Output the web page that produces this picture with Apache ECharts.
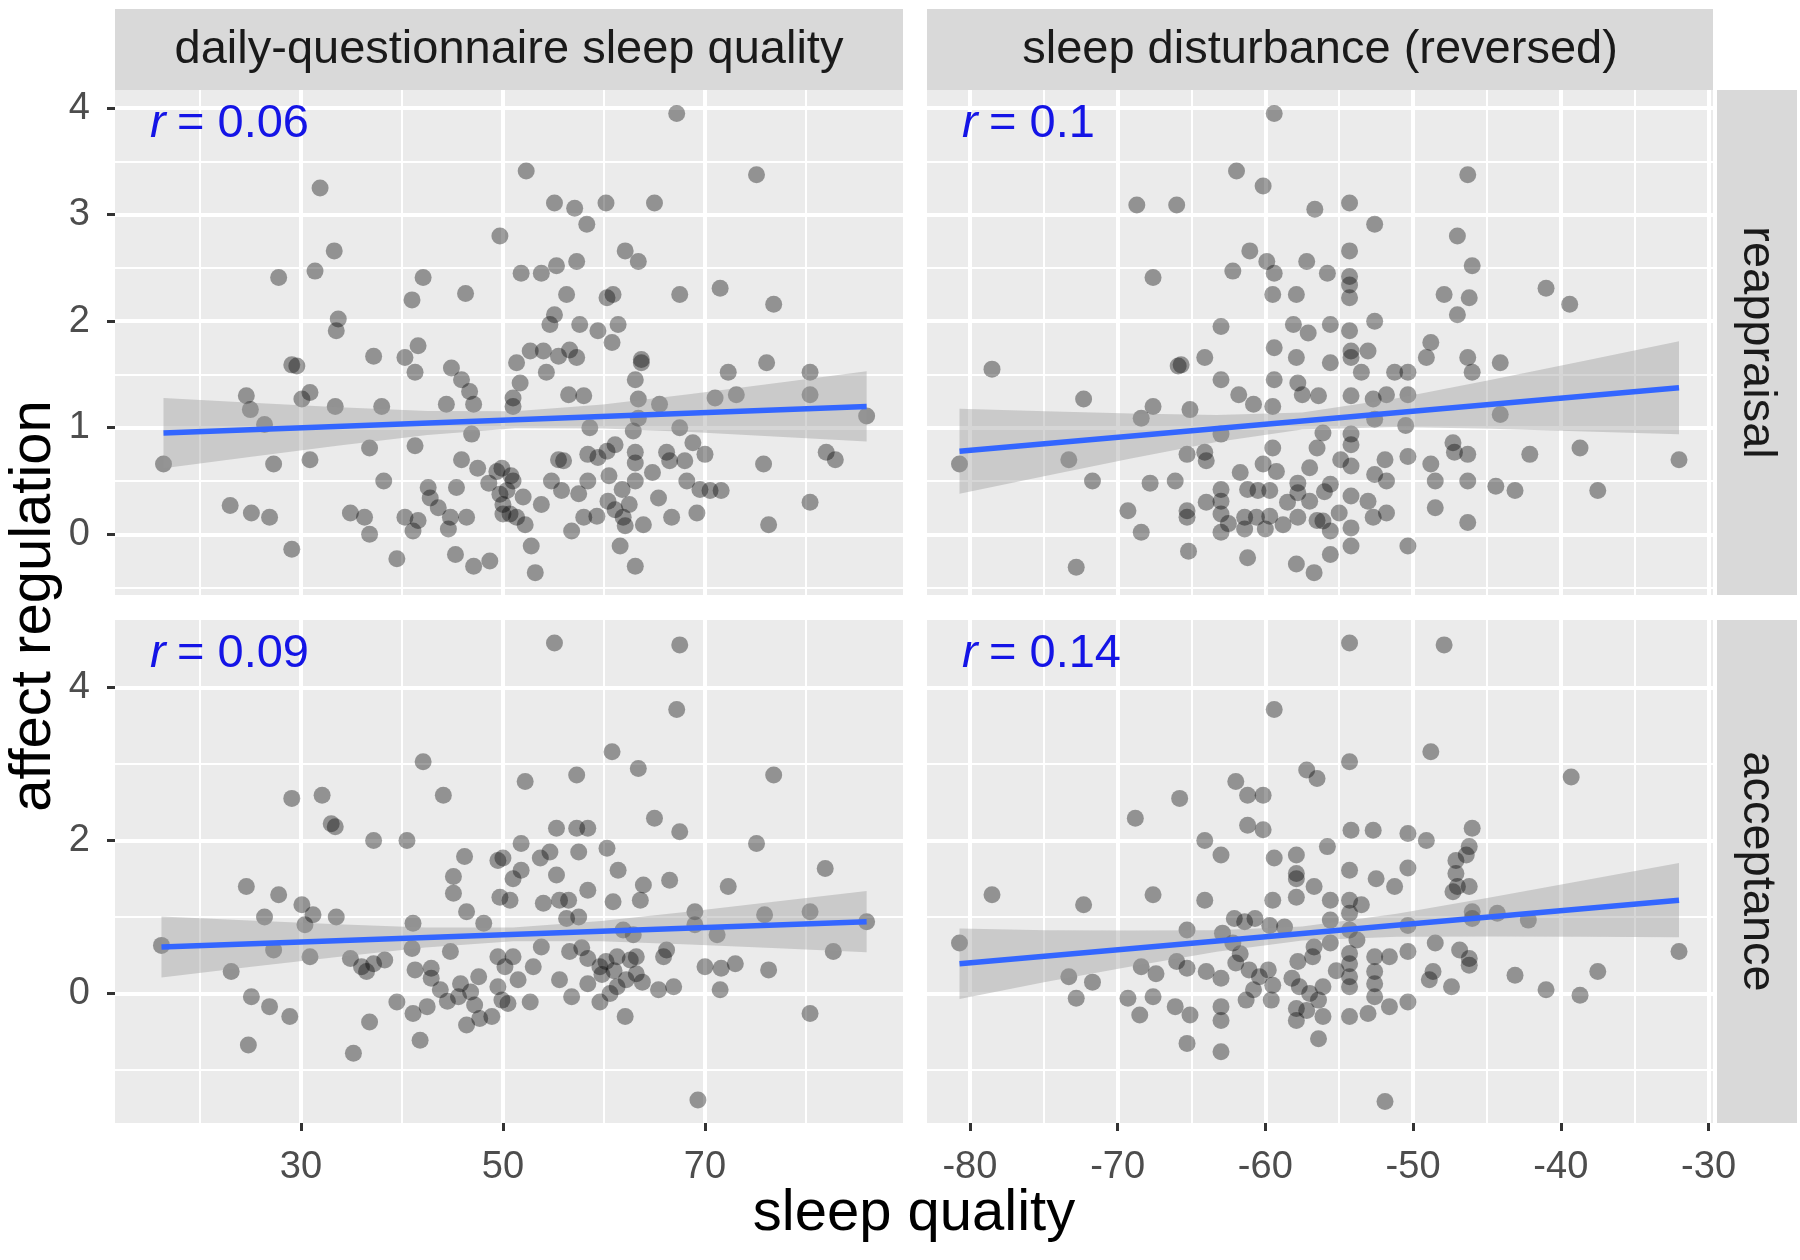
<!DOCTYPE html>
<html><head><meta charset="utf-8">
<script src="https://cdn.jsdelivr.net/npm/echarts@6/dist/echarts.min.js"></script>
<style>html,body{margin:0;padding:0;background:#fff}#c{width:1800px;height:1260px}</style>
</head><body><div id="c"></div>
<script>
// ---------------- data ----------------
const colLabels = ['daily-questionnaire sleep quality', 'sleep disturbance (reversed)'];
const rowLabels = ['reappraisal', 'acceptance'];
const rValues = [['0.06', '0.1'], ['0.09', '0.14']];
const xTitle = 'sleep quality';
const yTitle = 'affect regulation';

const xRangeQuality = [11.6, 89.6];
const xRangeDisturb = [-82.9, -29.7];
const yRangeReapp = [-0.57, 4.17];
const yRangeAccept = [-1.69, 4.88];

const xTicksQuality = [30, 50, 70];
const xMinorQuality = [20, 40, 60, 80];
const xTicksDisturb = [-80, -70, -60, -50, -40, -30];
const xMinorDisturb = [-75, -65, -55, -45, -35];
const yTicksReapp = [0, 1, 2, 3, 4];
const yMinorReapp = [-0.5, 0.5, 1.5, 2.5, 3.5];
const yTicksAccept = [0, 2, 4];
const yMinorAccept = [-1, 1, 3];

// reappraisal vs daily-questionnaire sleep quality
const reappQuality = [
[31.9,3.25],[49.7,2.80],[33.3,2.66],[27.8,2.41],[31.4,2.47],[42.1,2.41],[41.0,2.20],[46.3,2.26],[33.7,2.02],[33.5,1.91],
[37.2,1.67],[41.6,1.77],[40.3,1.66],[41.3,1.52],[44.9,1.56],[45.9,1.45],[29.1,1.59],[29.6,1.58],[24.6,1.30],[25.0,1.17],
[30.9,1.33],[30.1,1.27],[33.4,1.20],[38.0,1.20],[46.7,1.34],[47.1,1.22],[44.4,1.22],[26.4,1.03],[16.4,0.66],[27.3,0.66],
[30.9,0.70],[36.8,0.81],[41.3,0.83],[45.9,0.70],[46.9,0.94],[38.2,0.50],[42.6,0.44],[42.8,0.34],[45.4,0.44],[49.4,0.59],
[49.7,0.375],[43.6,0.25],[23.0,0.27],[25.1,0.20],[26.9,0.16],[34.9,0.20],[36.3,0.16],[36.8,0.00],[40.3,0.16],[41.6,0.13],
[41.1,0.03],[44.8,0.16],[46.4,0.16],[44.6,0.05],[50.0,0.19],[29.1,-0.14],[39.5,-0.23],[45.3,-0.19],[47.1,-0.30],[48.7,-0.25],
[67.2,3.95],[52.3,3.41],[75.1,3.375],[55.1,3.11],[57.1,3.06],[60.2,3.11],[65.0,3.11],[58.3,2.91],[62.1,2.66],[63.4,2.56],
[51.8,2.45],[53.8,2.45],[55.3,2.52],[57.3,2.56],[67.5,2.25],[71.5,2.31],[76.8,2.16],[56.3,2.25],[60.3,2.22],[60.9,2.25],
[55.1,2.06],[54.65,1.97],[57.6,1.97],[59.4,1.91],[61.4,1.97],[60.8,1.80],[51.35,1.61],[52.7,1.72],[54.0,1.72],[55.5,1.67],
[56.6,1.73],[57.3,1.66],[63.7,1.64],[63.7,1.61],[54.3,1.52],[63.1,1.45],[51.7,1.42],[72.3,1.52],[76.1,1.61],[80.4,1.52],
[51.0,1.28],[51.0,1.20],[56.5,1.31],[58.0,1.30],[63.4,1.27],[65.5,1.22],[71.0,1.28],[73.1,1.31],[80.4,1.31],[86.0,1.11],
[58.6,1.00],[62.9,0.97],[67.5,1.00],[63.4,1.09],[68.8,0.86],[70.0,0.75],[66.2,0.77],[66.5,0.69],[68.0,0.69],[63.1,0.77],
[63.1,0.67],[61.1,0.84],[60.3,0.78],[59.4,0.72],[58.4,0.75],[56.0,0.69],[54.8,0.50],[55.8,0.41],[58.4,0.50],[63.1,0.50],
[68.2,0.50],[69.5,0.42],[70.5,0.41],[71.6,0.41],[65.4,0.34],[82.0,0.77],[82.9,0.70],[75.8,0.66],[80.4,0.30],[76.3,0.09],
[66.7,0.16],[69.2,0.20],[60.4,0.31],[61.1,0.23],[61.9,0.16],[62.1,0.08],[63.9,0.09],[58.0,0.16],[59.3,0.17],[56.8,0.03],
[61.6,-0.11],[63.1,-0.30],[52.8,-0.11],[53.2,-0.36],[49.9,0.62],[50.4,0.41],[50.7,0.19],[51.35,0.16],[52.2,0.09],[51.0,0.50],
[50.0,0.28],[55.5,0.70],[48.6,0.48],[50.8,0.55],[52.0,0.35],[47.5,0.62],[53.8,0.28],[57.5,0.38],[60.5,0.55],[62.5,0.28],
[64.8,0.58],[61.8,0.42]
];

// reappraisal vs sleep disturbance (reversed)
const reappDisturb = [
[-59.4,3.95],[-61.95,3.41],[-60.15,3.27],[-68.7,3.09],[-66.0,3.09],[-56.65,3.05],[-61.05,2.66],[-59.9,2.56],[-59.4,2.45],[-62.2,2.47],
[-57.2,2.56],[-67.6,2.41],[-59.5,2.25],[-57.9,2.25],[-63.0,1.95],[-58.1,1.97],[-57.1,1.89],[-59.4,1.75],[-57.9,1.66],[-64.1,1.66],
[-65.7,1.59],[-65.9,1.58],[-78.5,1.55],[-63.0,1.45],[-59.4,1.45],[-57.8,1.42],[-57.5,1.31],[-61.8,1.31],[-60.8,1.22],[-59.5,1.20],
[-72.3,1.27],[-67.6,1.20],[-68.4,1.09],[-65.1,1.17],[-63.0,0.94],[-80.7,0.66],[-73.3,0.70],[-65.3,0.75],[-64.1,0.77],[-64.0,0.69],
[-59.5,0.81],[-57.0,0.625],[-60.15,0.66],[-59.25,0.59],[-71.7,0.50],[-67.8,0.48],[-66.1,0.50],[-61.7,0.58],[-63.0,0.42],[-63.0,0.31],
[-63.0,0.19],[-63.0,0.02],[-61.2,0.42],[-60.5,0.41],[-59.7,0.41],[-57.8,0.48],[-57.8,0.39],[-57.0,0.31],[-64.0,0.30],[-65.3,0.22],
[-65.3,0.16],[-61.4,0.16],[-61.4,0.05],[-60.6,0.16],[-59.7,0.17],[-58.8,0.09],[-57.8,0.16],[-56.5,0.13],[-69.3,0.22],[-68.4,0.02],
[-65.2,-0.16],[-61.2,-0.22],[-57.9,-0.28],[-56.7,-0.36],[-72.8,-0.31],
[-46.3,3.375],[-54.3,3.11],[-52.6,2.91],[-47.0,2.80],[-54.3,2.66],[-55.8,2.45],[-54.3,2.42],[-54.3,2.34],[-54.3,2.22],[-46.0,2.52],
[-41.0,2.31],[-39.4,2.16],[-47.9,2.25],[-46.2,2.22],[-47.0,2.06],[-52.6,2.00],[-55.6,1.97],[-54.3,1.91],[-48.8,1.80],[-49.1,1.66],
[-54.2,1.72],[-54.2,1.66],[-53.05,1.72],[-55.6,1.61],[-53.5,1.52],[-51.25,1.52],[-50.35,1.52],[-46.3,1.66],[-46.0,1.52],[-44.1,1.61],
[-56.4,1.30],[-54.2,1.30],[-52.7,1.27],[-51.8,1.31],[-50.35,1.31],[-52.6,1.08],[-50.5,1.02],[-44.1,1.125],[-56.1,0.95],[-54.2,0.94],
[-54.2,0.84],[-56.5,0.81],[-47.3,0.86],[-47.2,0.77],[-46.3,0.75],[-42.1,0.75],[-38.7,0.81],[-32.0,0.70],[-54.9,0.70],[-54.2,0.64],
[-51.9,0.70],[-50.35,0.73],[-48.8,0.66],[-48.5,0.50],[-52.6,0.56],[-51.8,0.50],[-55.6,0.47],[-46.3,0.50],[-44.4,0.45],[-43.1,0.41],
[-37.5,0.41],[-54.2,0.36],[-53.05,0.31],[-52.7,0.16],[-51.8,0.20],[-48.5,0.25],[-46.3,0.11],[-56.1,0.125],[-55.6,0.03],[-54.2,0.06],
[-54.2,-0.11],[-50.35,-0.11],[-55.6,-0.19],[-58.5,0.30],[-60.0,0.05],[-62.5,0.10],[-55.0,0.20],[-56.0,0.40]
];

// acceptance vs daily-questionnaire sleep quality
const acceptQuality = [
[42.1,3.03],[29.1,2.55],[32.1,2.59],[44.1,2.59],[33.4,2.18],[33.0,2.22],[37.2,2.00],[40.5,2.00],[46.2,1.79],[49.5,1.74],
[45.1,1.53],[45.1,1.31],[24.6,1.40],[27.8,1.29],[30.1,1.16],[26.4,1.00],[31.2,1.03],[33.5,1.00],[30.4,0.90],[46.4,1.07],
[41.1,0.92],[48.1,0.92],[49.7,1.26],[16.2,0.63],[27.3,0.57],[30.9,0.48],[34.9,0.46],[36.0,0.35],[37.2,0.39],[38.3,0.44],
[36.5,0.29],[41.0,0.59],[41.3,0.31],[42.9,0.33],[42.9,0.20],[44.8,0.55],[47.6,0.22],[45.8,0.13],[45.6,-0.04],[49.5,0.48],
[49.5,0.09],[50.2,0.35],[23.1,0.29],[25.1,-0.04],[26.9,-0.17],[28.9,-0.30],[24.8,-0.67],[39.5,-0.11],[41.1,-0.26],[42.5,-0.17],
[36.8,-0.37],[41.8,-0.61],[35.2,-0.78],[46.4,-0.41],[47.7,-0.325],[48.9,-0.30],[49.9,-0.085],
[55.1,4.58],[67.5,4.555],[67.2,3.71],[60.8,3.16],[63.4,2.94],[52.2,2.77],[57.3,2.855],[76.8,2.855],[65.0,2.29],[67.5,2.115],
[75.1,1.96],[55.3,2.16],[57.3,2.16],[58.4,2.16],[51.8,1.96],[54.65,1.85],[57.5,1.85],[60.3,1.90],[50.0,1.77],[53.7,1.77],
[51.8,1.61],[51.0,1.50],[55.3,1.55],[61.4,1.61],[58.4,1.35],[63.9,1.42],[66.5,1.48],[72.3,1.40],[81.9,1.635],[50.7,1.22],
[54.0,1.18],[55.6,1.22],[56.5,1.22],[60.9,1.20],[63.6,1.22],[56.3,0.98],[57.5,1.00],[61.9,0.83],[62.9,0.77],[69.0,1.07],
[69.0,0.90],[71.2,0.77],[75.9,1.03],[80.4,1.07],[86.0,0.94],[82.7,0.55],[76.3,0.31],[80.4,-0.26],[51.0,0.48],[56.6,0.55],
[58.4,0.46],[59.6,0.35],[61.3,0.48],[62.6,0.44],[63.2,0.48],[65.9,0.48],[66.2,0.57],[63.2,0.26],[62.2,0.18],[61.3,0.09],
[60.6,0.00],[59.6,-0.11],[58.4,0.13],[56.8,-0.04],[55.6,0.18],[52.7,-0.11],[50.5,-0.13],[51.5,0.18],[65.4,0.05],[66.9,0.09],
[62.1,-0.30],[70.0,0.35],[71.6,0.33],[73.0,0.39],[71.5,0.05],[69.3,-1.39],[53.8,0.61],
[44.5,-0.10],[46.8,0.02],[47.2,-0.15],[43.8,0.05],[59.8,0.25],[61.0,0.30],[63.8,0.15],[60.2,0.42],[57.8,0.60],[53.0,0.35]
];

// acceptance vs sleep disturbance (reversed)
const acceptDisturb = [
[-59.4,3.71],[-57.2,2.92],[-56.5,2.81],[-62.0,2.77],[-61.2,2.59],[-60.15,2.59],[-65.8,2.55],[-68.8,2.29],[-61.2,2.20],[-60.15,2.14],
[-64.1,2.00],[-63.0,1.81],[-59.4,1.77],[-57.9,1.81],[-57.9,1.57],[-57.9,1.50],[-56.7,1.40],[-59.5,1.22],[-57.9,1.26],[-78.5,1.29],
[-72.3,1.16],[-67.6,1.29],[-64.1,1.22],[-80.7,0.66],[-62.1,0.98],[-61.4,0.94],[-60.7,0.98],[-59.7,0.89],[-58.7,0.87],[-65.3,0.83],
[-62.9,0.79],[-62.2,0.66],[-61.7,0.52],[-57.8,0.42],[-56.7,0.61],[-68.4,0.35],[-67.4,0.26],[-66.0,0.42],[-65.3,0.33],[-64.0,0.29],
[-63.0,0.20],[-61.1,0.31],[-60.4,0.22],[-59.8,0.31],[-59.5,0.11],[-57.7,0.09],[-57.0,0.00],[-73.3,0.22],[-71.7,0.15],[-72.8,-0.06],
[-69.3,-0.06],[-67.6,-0.04],[-68.5,-0.28],[-66.1,-0.17],[-65.1,-0.28],[-63.0,-0.17],[-63.0,-0.35],[-61.3,-0.085],[-59.6,-0.085],[-57.9,-0.35],
[-56.4,-0.085],[-65.3,-0.65],[-63.0,-0.76],[-56.4,-0.59],[-57.9,-0.195],[-57.2,-0.22],
[-54.3,4.58],[-47.9,4.555],[-48.8,3.16],[-54.3,3.03],[-39.3,2.83],[-54.2,2.135],[-52.7,2.135],[-50.35,2.09],[-49.1,2.00],[-46.0,2.16],
[-46.2,1.92],[-46.4,1.81],[-47.1,1.74],[-55.8,1.92],[-54.3,1.61],[-52.5,1.50],[-51.25,1.40],[-50.35,1.64],[-47.1,1.57],[-47.0,1.40],
[-46.2,1.40],[-47.3,1.33],[-55.6,1.22],[-54.3,1.22],[-53.5,1.16],[-54.3,1.05],[-55.6,0.96],[-50.35,0.89],[-46.0,1.07],[-44.3,1.05],
[-42.2,0.96],[-54.3,0.83],[-55.6,0.66],[-54.3,0.525],[-54.3,0.39],[-54.3,0.22],[-54.3,0.09],[-52.6,0.48],[-51.6,0.48],[-52.6,0.29],
[-52.6,0.13],[-52.6,-0.04],[-50.35,0.55],[-48.5,0.66],[-46.85,0.57],[-46.2,0.46],[-46.2,0.37],[-48.65,0.29],[-48.9,0.18],[-47.4,0.09],
[-43.1,0.24],[-41.0,0.05],[-38.7,-0.02],[-37.5,0.29],[-32.0,0.55],[-50.35,-0.11],[-51.6,-0.17],[-53.05,-0.26],[-54.3,-0.30],[-56.1,-0.30],
[-51.9,-1.41],[-56.8,0.48],[-56.1,0.09],[-46.0,0.98],[-58.2,0.20],[-60.8,0.05],[-62.0,0.40],[-55.2,0.30],[-53.8,0.70]
];

// fitted lines (end points)
const fitReappQuality = [[16.4, 0.95], [86.0, 1.20]];
const fitReappDisturb = [[-80.7, 0.78], [-32.0, 1.375]];
const fitAcceptQuality = [[16.2, 0.61], [86.0, 0.94]];
const fitAcceptDisturb = [[-80.7, 0.39], [-32.0, 1.22]];

// confidence bands [x, lower, upper]
const bandReappQuality = [[16.4,0.62,1.28],[25.1,0.728,1.234],[33.8,0.834,1.192],[42.5,0.931,1.157],[51.2,0.995,1.155],
  [59.9,0.993,1.219],[68.6,0.959,1.317],[77.3,0.916,1.422],[86.0,0.870,1.530]];
const bandReappDisturb = [[-80.7,0.381,1.179],[-74.9,0.548,1.154],[-69.1,0.711,1.133],[-63.3,0.867,1.119],[-57.5,0.984,1.144],
  [-51.1,1.008,1.276],[-44.7,0.990,1.450],[-38.3,0.965,1.631],[-32.0,0.939,1.811]];
const bandAcceptQuality = [[16.2,0.212,1.008],[24.9,0.347,0.955],[33.6,0.478,0.906],[42.3,0.601,0.865],[51.0,0.685,0.865],
  [59.75,0.684,0.948],[68.5,0.642,1.072],[77.25,0.593,1.205],[86.0,0.540,1.340]];
const bandAcceptDisturb = [[-80.7,-0.07,0.85],[-74.9,0.152,0.826],[-69.1,0.353,0.823],[-63.3,0.546,0.828],[-57.5,0.695,0.875],
  [-51.1,0.744,1.044],[-44.7,0.747,1.259],[-38.3,0.743,1.483],[-32.0,0.735,1.705]];

// ---------------- layout / style ----------------
const FONT = "'Liberation Sans', Arial, Helvetica, sans-serif";
const panels = [
  {grid:{left:115, top:90, width:788, height:505}, pts:reappQuality, fit:fitReappQuality, band:bandReappQuality,
   xr:xRangeQuality, yr:yRangeReapp, xt:xTicksQuality, xm:xMinorQuality, yt:yTicksReapp, ym:yMinorReapp, showX:false, showY:true, r:rValues[0][0]},
  {grid:{left:927, top:90, width:786, height:505}, pts:reappDisturb, fit:fitReappDisturb, band:bandReappDisturb,
   xr:xRangeDisturb, yr:yRangeReapp, xt:xTicksDisturb, xm:xMinorDisturb, yt:yTicksReapp, ym:yMinorReapp, showX:false, showY:false, r:rValues[0][1]},
  {grid:{left:115, top:620, width:788, height:503}, pts:acceptQuality, fit:fitAcceptQuality, band:bandAcceptQuality,
   xr:xRangeQuality, yr:yRangeAccept, xt:xTicksQuality, xm:xMinorQuality, yt:yTicksAccept, ym:yMinorAccept, showX:true, showY:true, r:rValues[1][0]},
  {grid:{left:927, top:620, width:786, height:503}, pts:acceptDisturb, fit:fitAcceptDisturb, band:bandAcceptDisturb,
   xr:xRangeDisturb, yr:yRangeAccept, xt:xTicksDisturb, xm:xMinorDisturb, yt:yTicksAccept, ym:yMinorAccept, showX:true, showY:false, r:rValues[1][1]}
];

const grid = [], xAxis = [], yAxis = [], series = [], graphic = [];
const MAJOR_W = 4, MINOR_W = 2;
const tickStyle = {color:'#333333', width:3};
const labelStyle = {color:'#4D4D4D', fontSize:38, fontFamily:FONT};
const R_COLOR = '#1414E6';

panels.forEach((p, i) => {
  grid.push(Object.assign({show:true, backgroundColor:'#EBEBEB', borderWidth:0}, p.grid));
  xAxis.push({type:'value', gridIndex:i, position:'bottom', min:p.xr[0], max:p.xr[1],
    axisLine:{show:false, onZero:false},
    axisTick:{show:p.showX, customValues:p.xt, length:8, lineStyle:tickStyle},
    axisLabel:Object.assign({show:p.showX, customValues:p.xt, margin:26}, labelStyle),
    splitLine:{show:true, lineStyle:{color:'#FFFFFF', width:MAJOR_W}}});
  xAxis.push({type:'value', gridIndex:i, position:'top', min:p.xr[0], max:p.xr[1],
    axisLine:{show:false, onZero:false}, axisTick:{show:false, customValues:p.xm}, axisLabel:{show:false},
    splitLine:{show:true, lineStyle:{color:'#FFFFFF', width:MINOR_W}}});
  yAxis.push({type:'value', gridIndex:i, position:'left', min:p.yr[0], max:p.yr[1],
    axisLine:{show:false, onZero:false},
    axisTick:{show:p.showY, customValues:p.yt, length:8, lineStyle:tickStyle},
    axisLabel:Object.assign({show:p.showY, customValues:p.yt, margin:25}, labelStyle),
    splitLine:{show:true, lineStyle:{color:'#FFFFFF', width:MAJOR_W}}});
  yAxis.push({type:'value', gridIndex:i, position:'right', min:p.yr[0], max:p.yr[1],
    axisLine:{show:false, onZero:false}, axisTick:{show:false, customValues:p.ym}, axisLabel:{show:false},
    splitLine:{show:true, lineStyle:{color:'#FFFFFF', width:MINOR_W}}});

  const xi = 2 * i, yi = 2 * i;
  series.push({type:'scatter', xAxisIndex:xi, yAxisIndex:yi, data:p.pts, symbol:'circle', symbolSize:17,
    itemStyle:{color:'rgba(0,0,0,0.47)', borderWidth:0}, z:2, silent:true});
  const band = p.band;
  series.push({type:'custom', xAxisIndex:xi, yAxisIndex:yi, data:band, z:3, silent:true,
    encode:{x:0, y:[1,2]},
    renderItem:(params, api) => {
      if (params.dataIndex !== 0) return null;
      const pts = [];
      band.forEach(b => pts.push(api.coord([b[0], b[2]])));
      for (let k = band.length - 1; k >= 0; k--) pts.push(api.coord([band[k][0], band[k][1]]));
      return {type:'polygon', shape:{points:pts}, style:{fill:'rgba(153,153,153,0.4)'}};
    }});
  series.push({type:'line', xAxisIndex:xi, yAxisIndex:yi, data:p.fit, symbol:'none', z:4, silent:true,
    lineStyle:{color:'#3366FF', width:5.5}});

  // r label
  const g = p.grid;
  graphic.push({type:'text', x:g.left + 35, y:g.top + 34, z:100, silent:true,
    style:{text:'r', fill:R_COLOR, fontSize:47, fontFamily:FONT, fontStyle:'italic', verticalAlign:'middle', align:'left'}});
  graphic.push({type:'text', x:g.left + 62, y:g.top + 34, z:100, silent:true,
    style:{text:'= ' + p.r, fill:R_COLOR, fontSize:47, fontFamily:FONT, verticalAlign:'middle', align:'left'}});
});

// strips
[[115, 788], [927, 786]].forEach(([x, w], j) => {
  graphic.push({type:'rect', z:50, silent:true, shape:{x:x, y:9, width:w, height:81}, style:{fill:'#D9D9D9'}});
  graphic.push({type:'text', z:100, silent:true, x:x + w / 2, y:50,
    style:{text:colLabels[j], fontSize:47, fontFamily:FONT, fill:'#1A1A1A', align:'center', verticalAlign:'middle'}});
});
[[90, 505], [620, 503]].forEach(([y, h], j) => {
  graphic.push({type:'rect', z:50, silent:true, shape:{x:1717, y:y, width:80, height:h}, style:{fill:'#D9D9D9'}});
  graphic.push({type:'text', z:100, silent:true, x:1757, y:y + h / 2, rotation:-Math.PI / 2,
    style:{text:rowLabels[j], fontSize:47, fontFamily:FONT, fill:'#1A1A1A', align:'center', verticalAlign:'middle'}});
});
// axis titles
graphic.push({type:'text', z:100, silent:true, x:914, y:1214,
  style:{text:xTitle, fontSize:58, fontFamily:FONT, fill:'#000000', align:'center', verticalAlign:'middle'}});
graphic.push({type:'text', z:100, silent:true, x:34, y:606, rotation:Math.PI / 2,
  style:{text:yTitle, fontSize:58, fontFamily:FONT, fill:'#000000', align:'center', verticalAlign:'middle'}});

const chart = echarts.init(document.getElementById('c'), null, {renderer:'canvas'});
chart.setOption({animation:false, backgroundColor:'#FFFFFF', grid, xAxis, yAxis, series, graphic});
</script>
</body></html>
